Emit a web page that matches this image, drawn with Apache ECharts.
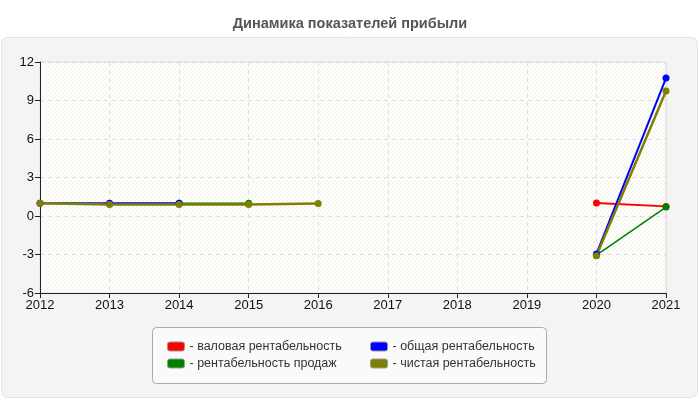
<!DOCTYPE html>
<html>
<head>
<meta charset="utf-8">
<title>Динамика показателей прибыли</title>
<script src="https://cdn.jsdelivr.net/npm/echarts@6/dist/echarts.min.js"></script>
<style>
    html, body { margin: 0; padding: 0; background: #fff; }
    #chart { width: 700px; height: 400px; }
</style>
</head>
<body>
<div id="chart"></div>
<script>
// данные графика
var years = ['2012', '2013', '2014', '2015', '2016', '2017', '2018', '2019', '2020', '2021'];
var grossProfit = [null, null, null, null, null, null, null, null, 1.01, 0.75];
var totalProfit = [1.0, 1.0, 1.0, null, null, null, null, null, -2.96, 10.75];
var salesProfit = [null, null, 1.0, 1.0, null, null, null, null, -3.05, 0.7];
var netProfit = [1.0, 0.9, 0.9, 0.9, 0.97, null, null, null, -3.09, 9.74];
var yTicks = { min: -6, max: 12, interval: 3 };

window.onload = function () {
    initChart();
}

// штриховка фона области графика
function makePattern() {
    var s = 4;
    var c = document.createElement('canvas');
    c.width = s;
    c.height = s;
    var ctx = c.getContext('2d');
    ctx.fillStyle = '#fefefa';
    ctx.fillRect(0, 0, s, s);
    ctx.strokeStyle = '#efefec';
    ctx.lineWidth = 1;
    ctx.beginPath();
    ctx.moveTo(0, s);
    ctx.lineTo(s, 0);
    ctx.moveTo(-1, 1);
    ctx.lineTo(1, -1);
    ctx.moveTo(s - 1, s + 1);
    ctx.lineTo(s + 1, s - 1);
    ctx.stroke();
    return { image: c, repeat: 'repeat' };
}

function makeSeries(name, data, color, width) {
    return {
        name: name,
        type: 'line',
        data: data,
        symbol: 'circle',
        symbolSize: 7,
        connectNulls: false,
        lineStyle: { color: color, width: width },
        itemStyle: { color: color },
        emphasis: { disabled: true }
    };
}

function initChart() {
    var chart = document.querySelector("#chart");
    var font = '"Liberation Sans", Arial, sans-serif';
    var legendText = { fontFamily: font, fontSize: 12.5, color: '#333' };
    var legendBase = {
        orient: 'vertical',
        top: 335,
        itemWidth: 17,
        itemHeight: 9,
        itemGap: 4,
        icon: 'roundRect',
        itemStyle: { borderColor: '#999', borderWidth: 1 },
        textStyle: legendText,
        formatter: function (n) { return '- ' + n; },
        selectedMode: false
    };
    echarts.init(chart).setOption({
        backgroundColor: '#fff',
        animation: false,
        title: {
            text: 'Динамика показателей прибыли',
            left: 'center',
            top: 11,
            textStyle: { fontFamily: font, fontSize: 14.5, fontWeight: 'bold', color: '#555' }
        },
        graphic: [
            {
                type: 'rect',
                z: -10,
                shape: { x: 1.5, y: 37.5, width: 696, height: 360, r: 6 },
                style: { fill: '#f4f4f4', stroke: '#e4e4e4', lineWidth: 1 }
            },
            {
                type: 'rect',
                z: -5,
                shape: { x: 152.5, y: 327.5, width: 394, height: 56, r: 4 },
                style: { fill: '#fafafa', stroke: '#aaa', lineWidth: 1 }
            }
        ],
        legend: [
            Object.assign({}, legendBase, {
                left: 162,
                data: ['валовая рентабельность', 'рентабельность продаж']
            }),
            Object.assign({}, legendBase, {
                left: 365,
                data: ['общая рентабельность', 'чистая рентабельность']
            })
        ],
        grid: {
            left: 40,
            right: 34,
            top: 62,
            bottom: 107,
            show: true,
            backgroundColor: makePattern(),
            borderColor: '#dcdcdc',
            borderWidth: 1
        },
        xAxis: {
            type: 'category',
            data: years,
            boundaryGap: false,
            axisLine: { onZero: false, lineStyle: { color: '#222', width: 1 } },
            axisTick: { show: true, length: 5, alignWithLabel: true, lineStyle: { color: '#222' } },
            axisLabel: { fontFamily: font, fontSize: 13, color: '#111', margin: 6 },
            splitLine: { show: true, lineStyle: { color: '#dedede', type: [4, 4] } }
        },
        yAxis: {
            type: 'value',
            min: yTicks.min,
            max: yTicks.max,
            interval: yTicks.interval,
            axisLine: { show: true, onZero: false, lineStyle: { color: '#222', width: 1 } },
            axisTick: { show: true, length: 5, lineStyle: { color: '#222' } },
            axisLabel: { fontFamily: font, fontSize: 13, color: '#111', margin: 6 },
            splitLine: { show: true, lineStyle: { color: '#dedede', type: [4, 4] } }
        },
        series: [
            makeSeries('валовая рентабельность', grossProfit, '#ff0000', 2),
            makeSeries('рентабельность продаж', salesProfit, '#008000', 1.5),
            makeSeries('общая рентабельность', totalProfit, '#0000ff', 2),
            makeSeries('чистая рентабельность', netProfit, '#808000', 2.5)
        ]
    });
}
</script>
</body>
</html>
